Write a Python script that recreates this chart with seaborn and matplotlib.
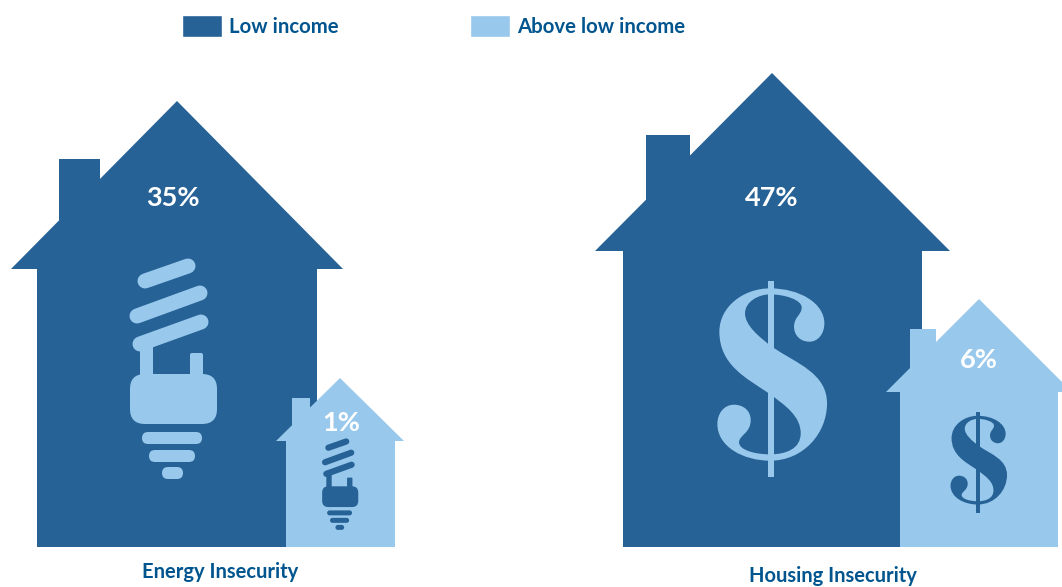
import matplotlib
import matplotlib.pyplot as plt
import seaborn as sns
from matplotlib.path import Path
from matplotlib.patches import FancyBboxPatch, Patch, PathPatch, Polygon, Rectangle

matplotlib.use("Agg")

sns.set_theme(style="white")
plt.rcParams["font.family"] = ["Lato", "DejaVu Sans"]

categories = ["Energy Insecurity", "Housing Insecurity"]
low_income = [35, 47]
above_low_income = [1, 6]
series_names = ["Low income", "Above low income"]

DARK, LIGHT = sns.color_palette(["#266296", "#98c8ec"])
TEXT = "#00558f"
BOTTOM = 547

# outline of the dollar icon, start point then bezier triples
S_START = (270, 55)
S_CURVES = [
    (190, 55, 118, 110, 118, 185),
    (118, 285, 200, 325, 262, 367),
    (320, 408, 362, 440, 362, 490),
    (362, 535, 320, 553, 270, 553),
    (225, 553, 177, 540, 177, 517),
    (177, 495, 212, 490, 212, 450),
    (212, 422, 190, 404, 162, 404),
    (132, 404, 112, 430, 112, 462),
    (112, 530, 190, 572, 270, 572),
    (370, 572, 441, 490, 441, 400),
    (441, 310, 350, 280, 280, 233),
    (235, 200, 195, 165, 195, 130),
    (195, 95, 235, 73, 270, 73),
    (315, 73, 365, 90, 365, 112),
    (365, 135, 342, 140, 342, 170),
    (342, 197, 362, 215, 388, 215),
    (415, 215, 433, 190, 433, 160),
    (433, 100, 360, 55, 270, 55),
]


def house(ax, left, right, eave_l, eave_r, eave_y, tip, chim, color):
    # tip = (x, y), chim = (x0, x1, top)
    ax.add_patch(Rectangle((left, eave_y - 1), right - left, BOTTOM - eave_y + 1, fc=color, ec="none"))
    ax.add_patch(Polygon([(eave_l, eave_y), tip, (eave_r, eave_y)], fc=color, ec="none"))
    # chimney runs down to the roof line at its left edge
    roof_y = eave_y - (chim[0] - eave_l) * (eave_y - tip[1]) / (tip[0] - eave_l)
    ax.add_patch(Rectangle((chim[0], chim[2]), chim[1] - chim[0], roof_y - chim[2], fc=color, ec="none"))


def rbox(ax, x0, y0, x1, y1, r, color):
    ax.add_patch(
        FancyBboxPatch(
            (x0 + r, y0 + r),
            x1 - x0 - 2 * r,
            y1 - y0 - 2 * r,
            boxstyle=f"round,pad={r},rounding_size={r}",
            fc=color,
            ec="none",
        )
    )


def bulb(ax, cx, top, s, color):
    def px(x):
        return cx + x * s

    def py(y):
        return top + y * s

    coils = [(-28, 21, 15, 6), (-36, 56, 27, 33), (-33, 84, 28, 62)]
    for x0, y0, x1, y1 in coils:
        ax.plot(
            [px(x0), px(x1)],
            [py(y0), py(y1)],
            color=color,
            lw=10.8 * s,
            solid_capstyle="round",
        )
    rbox(ax, px(-33), py(84), px(-20), py(125), 0.1, color)
    rbox(ax, px(17), py(93), px(30), py(125), 2 * s, color)
    rbox(ax, px(-43), py(114), px(44), py(164), 15 * s, color)
    rbox(ax, px(-31), py(172), px(29), py(184), 6 * s, color)
    rbox(ax, px(-24), py(190), px(22), py(202), 6 * s, color)
    rbox(ax, px(-11), py(207), px(10), py(219), 6 * s, color)


def dollar(ax, cx, cy, s, color):
    # traced at 3x, centred on the vertical bar
    def pt(x, y):
        return (cx + (x - 272) / 3 * s, cy + (y - 326) / 3 * s)

    verts = [pt(*S_START)]
    codes = [Path.MOVETO]
    for c in S_CURVES:
        verts += [pt(c[0], c[1]), pt(c[2], c[3]), pt(c[4], c[5])]
        codes += [Path.CURVE4] * 3
    ax.add_patch(PathPatch(Path(verts, codes), fc=color, ec="none"))
    x0, y0 = pt(263, 33)
    x1, y1 = pt(282, 620)
    ax.add_patch(Rectangle((x0, y0), x1 - x0, y1 - y0, fc=color, ec="none"))


fig, ax = plt.subplots(figsize=(10.62, 5.87), dpi=100)
ax.set_position([0, 0, 1, 1])
ax.set_xlim(0, 1062)
ax.set_ylim(587, 0)
ax.set_axis_off()

house(ax, 37, 317, 11, 343, 269, (177, 101), (59, 100, 159), DARK)
house(ax, 623, 922, 595, 950, 251, (772, 73), (646, 690, 135), DARK)
house(ax, 286, 395, 276, 404, 441, (340, 378), (292, 310, 398), LIGHT)
house(ax, 900, 1058, 886, 1072, 392, (979, 299), (910, 936, 329), LIGHT)

bulb(ax, 173, 260, 1.0, LIGHT)
bulb(ax, 340, 439, 0.415, DARK)

dollar(ax, 770.7, 378.7, 1.0, LIGHT)
dollar(ax, 978, 462.3, 0.515, DARK)

pct = dict(color="white", fontsize=19.5, fontweight="bold", ha="center", va="center")
ax.text(173, 198, f"{low_income[0]}%", **pct)
ax.text(772, 198, f"{low_income[1]}%", **pct)
ax.text(341, 423, f"{above_low_income[0]}%", **pct)
ax.text(979, 360, f"{above_low_income[1]}%", **pct)

cat = dict(color=TEXT, fontsize=14.5, fontweight="bold", ha="center", va="center")
ax.text(220.5, 572, categories[0], **cat)
ax.text(833, 576, categories[1], **cat)

ax.legend(
    handles=[Patch(fc=DARK, label=series_names[0]), Patch(fc=LIGHT, label=series_names[1])],
    loc="center",
    bbox_to_anchor=(433.5 / 1062, 1 - 26 / 587),
    ncol=2,
    frameon=False,
    labelcolor=TEXT,
    prop={"weight": "bold", "size": 14.7},
    handlelength=1.96,
    handleheight=1.25,
    handletextpad=0.34,
    columnspacing=6.47,
    borderpad=0,
)

fig.savefig("out.png", dpi=100)
plt.close(fig)
